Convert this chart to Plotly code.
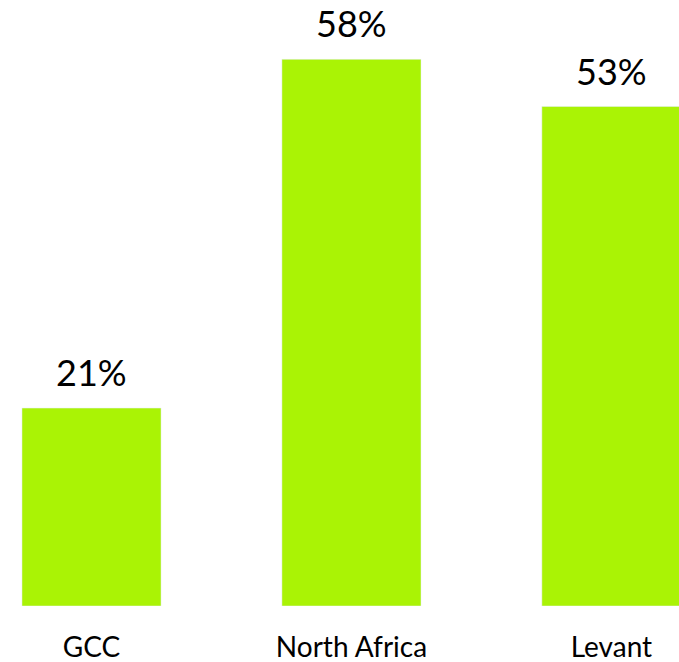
import plotly.graph_objects as go

categories = ["GCC", "North Africa", "Levant"]
values = [21, 58, 53]
labels = ["21%", "58%", "53%"]

fig = go.Figure(go.Bar(
    x=categories, y=values, marker_color="#aaf305", width=0.535,
))
for c, v, t in zip(categories, values, labels):
    fig.add_annotation(x=c, y=v, text=t, showarrow=False, yanchor="bottom", yshift=12,
                       font=dict(family="Lato", size=36, color="#000000"))
fig.update_layout(
    width=679, height=662, margin=dict(l=0, r=0, t=0, b=56),
    plot_bgcolor="white", paper_bgcolor="white", showlegend=False,
    font=dict(family="Lato", color="#000000"),
)
fig.update_xaxes(type="category", range=[-0.352, 2.26], showgrid=False, zeroline=False,
                 showline=False, ticks="", ticklabelstandoff=22,
                 tickfont=dict(family="Lato", size=28, color="#000000"))
fig.update_yaxes(range=[0, 64.3], visible=False)
fig.write_html("out.html", config={"displayModeBar": False},
               post_script="document.body.style.margin='0';document.body.style.overflow='hidden';")
